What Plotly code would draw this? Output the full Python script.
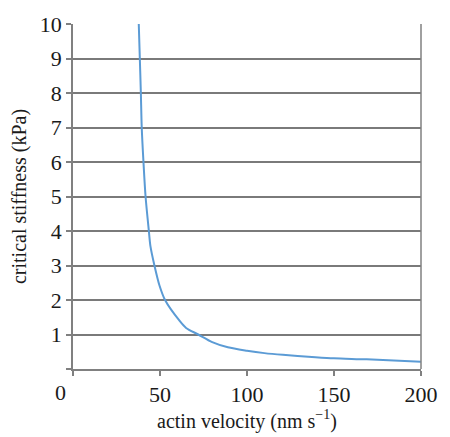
import plotly.graph_objects as go

# values
velocity = [37.8, 38.4, 39.0, 39.5, 40.5, 41.7, 43.6, 44.5, 46.8, 49.7, 52.9, 61.2, 65.0,
            72.0, 80.0, 89.0, 100.0, 110.0, 120.6, 137.3, 150.0, 168.8, 200.0]
stiffness = [10.0, 9.0, 8.0, 7.0, 6.0, 5.0, 4.0, 3.56, 3.0, 2.42, 2.0, 1.40, 1.19,
             1.0, 0.78, 0.63, 0.53, 0.46, 0.41, 0.35, 0.31, 0.28, 0.21]

x_ticks = [0, 50, 100, 150, 200]
x_labels = ["", "50", "100", "150", "200"]
y_ticks = list(range(0, 11))
y_labels = [""] + [str(v) for v in range(1, 11)]

family = "Liberation Serif, Times New Roman, serif"
tick_font = dict(family=family, size=22, color="#1a1a1a")
title_font = dict(family=family, size=20, color="#1a1a1a")

fig = go.Figure()
fig.add_trace(go.Scatter(
    x=velocity, y=stiffness, mode="lines",
    line=dict(color="#5b9bd5", width=2, shape="spline", smoothing=0.8),
    showlegend=False, hoverinfo="skip",
))

fig.update_layout(
    width=450, height=437,
    margin=dict(l=73, r=17, t=24, b=62),
    paper_bgcolor="white", plot_bgcolor="white",
    font=tick_font,
    xaxis=dict(
        range=[0, 200], tickvals=x_ticks, ticktext=x_labels,
        showgrid=False, zeroline=False,
        showline=True, linecolor="#808080", linewidth=1.5,
        ticks="outside", ticklen=5, tickcolor="#808080", tickwidth=1.5,
        tickfont=tick_font,
        title=dict(text="actin velocity (nm s<sup>−1</sup>)", font=title_font, standoff=4),
    ),
    yaxis=dict(
        range=[0, 10], tickvals=y_ticks, ticktext=y_labels,
        showgrid=True, gridcolor="#7a7a7a", gridwidth=1.5, zeroline=False,
        showline=True, linecolor="#808080", linewidth=1.5,
        ticks="outside", ticklen=5, tickcolor="#808080", tickwidth=1.5,
        tickfont=tick_font,
        title=dict(text="critical stiffness (kPa)", font=title_font, standoff=8),
    ),
    shapes=[dict(type="line", xref="paper", yref="paper", x0=1, x1=1, y0=0, y1=1,
                 line=dict(color="#808080", width=1.5))],
    annotations=[dict(text="0", xref="paper", yref="paper", x=-0.037, y=0,
                      yshift=-9, yanchor="top", xanchor="center", showarrow=False,
                      font=tick_font)],
)

fig.write_html("out.html", config={"displayModeBar": False},
               post_script="document.body.style.margin='0';")
